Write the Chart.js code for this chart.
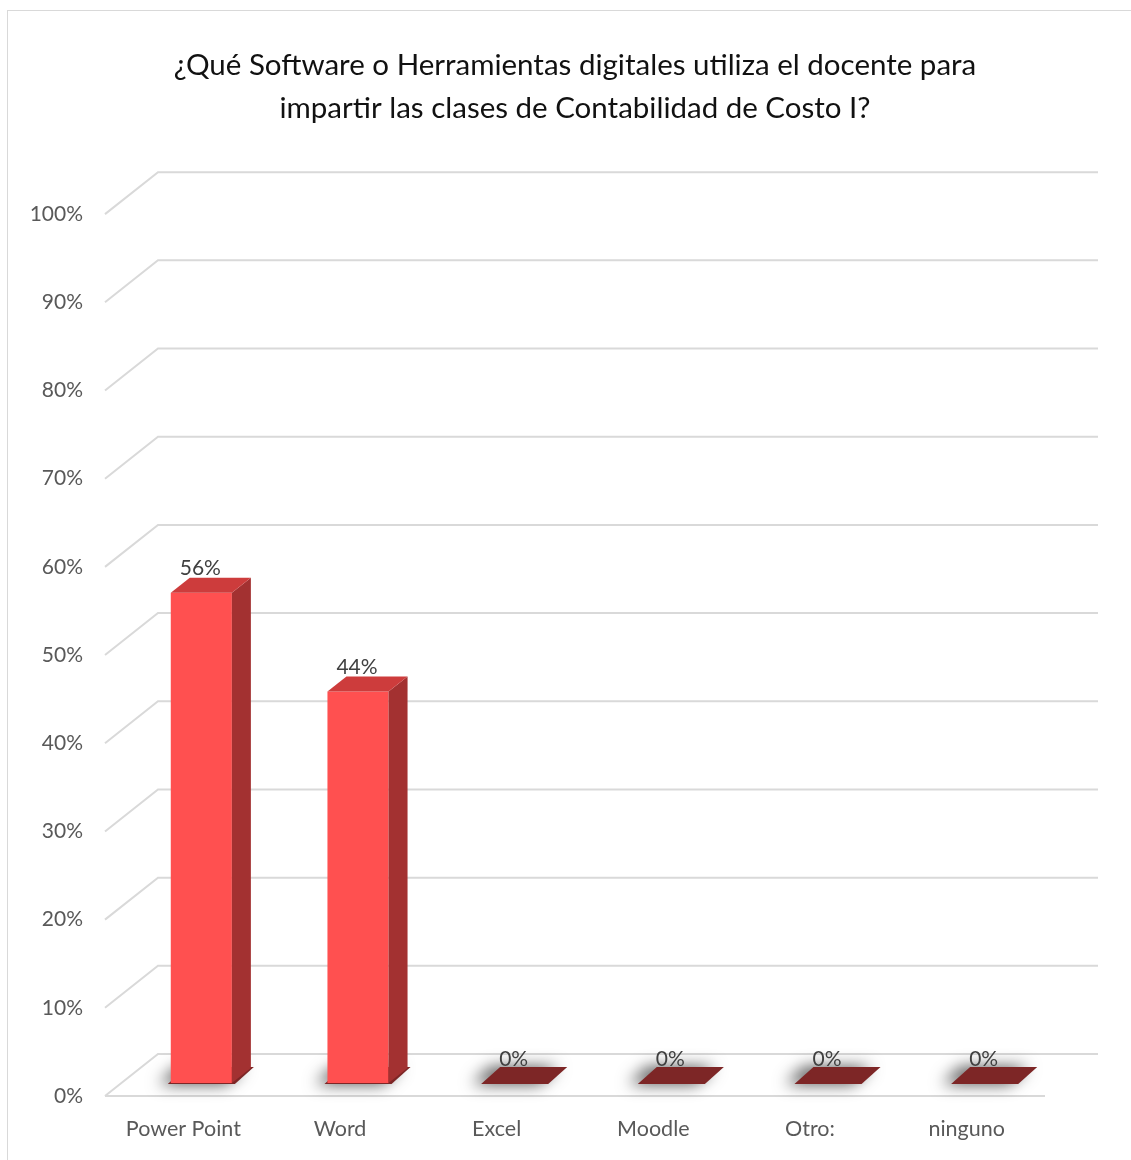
<!DOCTYPE html>
<html>
<head>
<meta charset="utf-8">
<script src="https://cdn.jsdelivr.net/npm/chart.js@4.4.1/dist/chart.umd.min.js"></script>
<style>
  html, body { margin: 0; padding: 0; background: #fff; overflow: hidden; }
  #frame { position: absolute; left: 7px; top: 10px; width: 1140px; height: 1160px; border: 1px solid #d9d9d9; }
  #wrap { position: absolute; left: 0; top: 0; width: 1131px; height: 1160px; }
</style>
</head>
<body>
<div id="frame"></div>
<div id="wrap"><canvas id="chart"></canvas></div>
<script>
// survey answers, share of respondents in percent
const CATEGORIES = ['Power Point', 'Word', 'Excel', 'Moodle', 'Otro:', 'ninguno'];
const PERCENTS = [55.6, 44.4, 0, 0, 0, 0];
const TITLE_LINES = [
  '¿Qué Software o Herramientas digitales utiliza el docente para',
  'impartir las clases de Contabilidad de Costo I?'
];

// fake 3d: wall depth and where the bars sit inside it
const WALL_DX = 53, WALL_DY = -42;
const BAR_DX = 18, BAR_DY = -13;
const DEPTH_DX = 19, DEPTH_DY = -15;

const FRONT = '#ff5050';
const SIDE = '#a33131';
const TOP = '#cd3c3c';
const FLAT_TOP = '#7d2626';
const GRID = '#d9d9d9';
const FONT = 'Lato, "Open Sans", sans-serif';

const threeD = {
  id: 'threeD',
  beforeDatasetsDraw(chart) {
    const { ctx, chartArea: a, scales: { y } } = chart;
    ctx.save();
    ctx.strokeStyle = GRID;
    ctx.lineWidth = 2;
    y.ticks.forEach(t => {
      const py = y.getPixelForValue(t.value);
      ctx.beginPath();
      ctx.moveTo(a.left, py);
      ctx.lineTo(a.left + WALL_DX, py + WALL_DY);
      ctx.lineTo(a.right + WALL_DX, py + WALL_DY);
      ctx.stroke();
    });
    // floor front edge
    ctx.beginPath();
    ctx.moveTo(a.left, a.bottom);
    ctx.lineTo(a.right, a.bottom);
    ctx.stroke();

    // soft shadows under the bar footprints
    const meta = chart.getDatasetMeta(0);
    meta.data.forEach(bar => {
      const { x, base, width } = bar.getProps(['x', 'base', 'width'], true);
      const x0 = x - width / 2 + BAR_DX, x1 = x + width / 2 + BAR_DX, b = base + BAR_DY;
      ctx.save();
      ctx.shadowColor = 'rgba(0,0,0,0.7)';
      ctx.shadowBlur = 16;
      ctx.shadowOffsetX = -9;
      ctx.shadowOffsetY = 0;
      ctx.fillStyle = FLAT_TOP;
      ctx.beginPath();
      ctx.moveTo(x0 - 3, b + 1);
      ctx.lineTo(x1 + 3, b + 1);
      ctx.lineTo(x1 + DEPTH_DX + 3, b + DEPTH_DY - 1);
      ctx.lineTo(x0 + DEPTH_DX - 3, b + DEPTH_DY - 1);
      ctx.closePath();
      ctx.fill();
      ctx.restore();
    });
    ctx.restore();

    ctx.save();
    ctx.translate(BAR_DX, BAR_DY);
  },
  afterDatasetsDraw(chart) {
    const { ctx } = chart;
    ctx.restore();
    const meta = chart.getDatasetMeta(0);
    ctx.save();
    meta.data.forEach((bar, i) => {
      const { x, y, base, width } = bar.getProps(['x', 'y', 'base', 'width'], true);
      const x0 = x - width / 2 + BAR_DX, x1 = x + width / 2 + BAR_DX;
      const top = y + BAR_DY, b = base + BAR_DY;
      const flat = Math.abs(b - top) < 1;

      if (!flat) {
        ctx.fillStyle = SIDE;
        ctx.beginPath();
        ctx.moveTo(x1, top);
        ctx.lineTo(x1 + DEPTH_DX, top + DEPTH_DY);
        ctx.lineTo(x1 + DEPTH_DX, b + DEPTH_DY);
        ctx.lineTo(x1, b);
        ctx.closePath();
        ctx.fill();
      }
      ctx.fillStyle = flat ? FLAT_TOP : TOP;
      ctx.beginPath();
      ctx.moveTo(x0, top);
      ctx.lineTo(x1, top);
      ctx.lineTo(x1 + DEPTH_DX, top + DEPTH_DY);
      ctx.lineTo(x0 + DEPTH_DX, top + DEPTH_DY);
      ctx.closePath();
      ctx.fill();

      // value label
      ctx.fillStyle = '#404040';
      ctx.font = '21px ' + FONT;
      ctx.textAlign = 'center';
      ctx.textBaseline = 'middle';
      ctx.fillText(Math.round(PERCENTS[i]) + '%', x + BAR_DX - 1, top + DEPTH_DY - 9);
    });
    ctx.restore();
  }
};

new Chart(document.getElementById('chart'), {
  type: 'bar',
  data: {
    labels: CATEGORIES,
    datasets: [{
      data: PERCENTS,
      backgroundColor: FRONT,
      borderWidth: 0,
      categoryPercentage: 1,
      barPercentage: 0.39
    }]
  },
  options: {
    responsive: true,
    maintainAspectRatio: false,
    animation: false,
    layout: { padding: { top: 10, right: 86, bottom: 14, left: 0 } },
    plugins: {
      legend: { display: false },
      tooltip: { enabled: false },
      title: {
        display: true,
        fullSize: false,
        text: TITLE_LINES,
        color: '#111111',
        font: { family: FONT, size: 29.5, weight: 'normal', lineHeight: 1.46 },
        padding: { top: 34, bottom: 84 }
      }
    },
    scales: {
      x: {
        grid: { display: false, drawTicks: false },
        border: { display: false },
        ticks: { color: '#595959', font: { family: FONT, size: 21.5 }, padding: 20, maxRotation: 0 },
        afterFit(s) { s.height = 50; }
      },
      y: {
        min: 0,
        max: 100,
        grid: { display: false, drawTicks: false },
        border: { display: false },
        ticks: {
          stepSize: 10,
          color: '#595959',
          font: { family: FONT, size: 21 },
          padding: 22,
          callback: v => v + '%'
        },
        afterFit(s) { s.width = 105; }
      }
    }
  },
  plugins: [threeD]
});
</script>
</body>
</html>
